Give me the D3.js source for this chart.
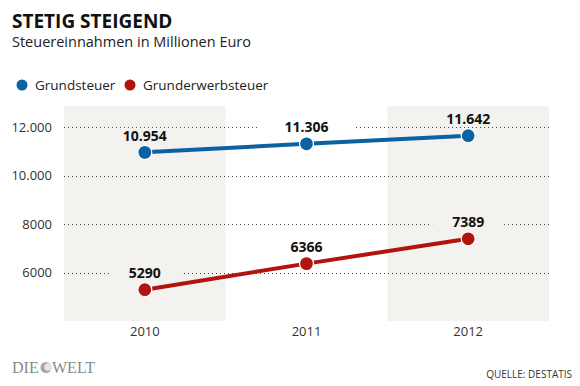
<!DOCTYPE html>
<html>
<head>
<meta charset="utf-8">
<script src="https://cdn.jsdelivr.net/npm/d3@7"></script>
<style>
  body { margin: 0; background: #fff; }
  svg { display: block; font-family: "Open Sans", sans-serif; }
</style>
</head>
<body>
<div id="chart"></div>
<script>
var years = ['2010', '2011', '2012'];
var grundsteuer = [10954, 11306, 11642];
var grunderwerbsteuer = [5290, 6366, 7389];
var tickValues = [6000, 8000, 10000, 12000];
var tickLabels = ['6000', '8000', '10.000', '12.000'];
var seriesNames = ['Grundsteuer', 'Grunderwerbsteuer'];

function draw() {
  var width = 580,
      height = 386,
      area = { x1: 64, x2: 549, top: 106, bottom: 321 },
      colors = ['#0b62a3', '#b3130f'],
      shade = '#f3f2ee';

  var deFormat = d3.formatLocale({ decimal: ',', thousands: '.', grouping: [3], currency: ['', ' €'] });
  var fmt = function(v) { return v >= 10000 ? deFormat.format(',')(v) : String(v); };

  var svg = d3.select('#chart')
    .append('svg')
      .attr('width', width)
      .attr('height', height);

  var x = d3.scaleBand().domain(years).range([area.x1, area.x2]);
  var y = d3.scaleLinear().domain([4000, 12000]).range([area.bottom, 127]);

  // title
  svg.append('text')
      .attr('x', 12).attr('y', 28)
      .style('font-size', '19px').style('font-weight', 700).style('fill', '#111')
      .text('STETIG STEIGEND');
  svg.append('text')
      .attr('x', 12).attr('y', 47)
      .style('font-size', '14.5px').style('fill', '#222')
      .text('Steuereinnahmen in Millionen Euro');

  // legend
  var legendX = [22, 130];
  seriesNames.forEach(function(name, i) {
    svg.append('circle')
        .attr('cx', legendX[i]).attr('cy', 85).attr('r', 5.5)
        .style('fill', colors[i]);
    svg.append('text')
        .attr('x', legendX[i] + 13).attr('y', 90)
        .style('font-size', '13.5px').style('fill', '#222')
        .text(name);
  });

  // shaded bands for 2010 and 2012
  svg.selectAll('rect.band')
    .data(years.filter(function(d, i) { return i !== 1; }))
    .enter()
      .append('rect')
        .attr('class', 'band')
        .attr('x', function(d) { return x(d); })
        .attr('y', area.top)
        .attr('width', x.bandwidth())
        .attr('height', area.bottom - area.top)
        .style('fill', shade);

  // dotted grid lines
  svg.selectAll('line.grid')
    .data(tickValues)
    .enter()
      .append('line')
        .attr('class', 'grid')
        .attr('x1', area.x1).attr('x2', area.x2)
        .attr('y1', function(d) { return Math.round(y(d)) + 0.5; })
        .attr('y2', function(d) { return Math.round(y(d)) + 0.5; })
        .style('stroke', '#444')
        .style('stroke-width', 1)
        .style('stroke-dasharray', '1,3');

  // y axis labels
  var yAxis = d3.axisLeft(y)
    .tickValues(tickValues)
    .tickFormat(function(d, i) { return tickLabels[i]; })
    .tickSize(0)
    .tickPadding(0);
  var yg = svg.append('g')
      .attr('transform', 'translate(52,0)')
      .call(yAxis);
  yg.select('.domain').remove();
  yg.selectAll('text')
      .style('font-family', '"Open Sans", sans-serif')
      .style('font-size', '13px')
      .style('fill', '#333');

  // x axis labels
  var xAxis = d3.axisBottom(x).tickSize(0).tickPadding(0);
  var xg = svg.append('g')
      .attr('transform', 'translate(0,327)')
      .call(xAxis);
  xg.select('.domain').remove();
  xg.selectAll('text')
      .style('font-family', '"Open Sans", sans-serif')
      .style('font-size', '13px')
      .style('fill', '#333');

  var cx = function(d, i) { return x(years[i]) + x.bandwidth() / 2; };
  var line = d3.line()
    .x(function(d, i) { return cx(d, i); })
    .y(function(d) { return y(d); });

  [grundsteuer, grunderwerbsteuer].forEach(function(series, s) {
    svg.append('path')
        .datum(series)
        .attr('d', line)
        .style('fill', 'none')
        .style('stroke', colors[s])
        .style('stroke-width', 4);

    svg.selectAll('circle.dot' + s)
      .data(series)
      .enter()
        .append('circle')
          .attr('class', 'dot' + s)
          .attr('cx', cx)
          .attr('cy', function(d) { return y(d); })
          .attr('r', 7)
          .style('fill', colors[s])
          .style('stroke', '#fff')
          .style('stroke-width', 1.2);

    // value labels with a backing box that hides the grid
    var labels = svg.selectAll('g.label' + s)
      .data(series)
      .enter()
        .append('g')
          .attr('class', 'label' + s)
          .attr('transform', function(d, i) {
            return 'translate(' + cx(d, i) + ',' + (y(d) - 16.5) + ')';
          });
    labels.append('rect')
        .attr('x', function(d) { return d >= 10000 ? -48 : -36; })
        .attr('y', -8)
        .attr('width', function(d) { return d >= 10000 ? 96 : 72; })
        .attr('height', 14)
        .style('fill', function(d, i) { return i === 1 ? '#fff' : shade; });
    labels.append('text')
        .attr('text-anchor', 'middle')
        .attr('dy', '0.35em')
        .style('font-size', '14px')
        .style('font-weight', 700)
        .style('fill', '#111')
        .text(fmt);
  });

  // footer
  var logo = svg.append('g').attr('transform', 'translate(12,373)')
      .style('font-family', '"Liberation Serif", "DejaVu Serif", serif')
      .style('font-size', '16px')
      .style('fill', '#8a8a8a');
  logo.append('text').attr('x', 0).attr('y', 0).text('DIE');
  logo.append('circle').attr('cx', 34).attr('cy', -5.5).attr('r', 5.5)
      .style('fill', '#a5a5a5');
  logo.append('circle').attr('cx', 36).attr('cy', -6).attr('r', 3.8)
      .style('fill', '#e6e6e6');
  logo.append('text').attr('x', 40).attr('y', 0).text('WELT');

  svg.append('text')
      .attr('x', 572).attr('y', 378)
      .attr('text-anchor', 'end')
      .style('font-size', '10px')
      .style('fill', '#333')
      .text('QUELLE: DESTATIS');
}

draw();
</script>
</body>
</html>
